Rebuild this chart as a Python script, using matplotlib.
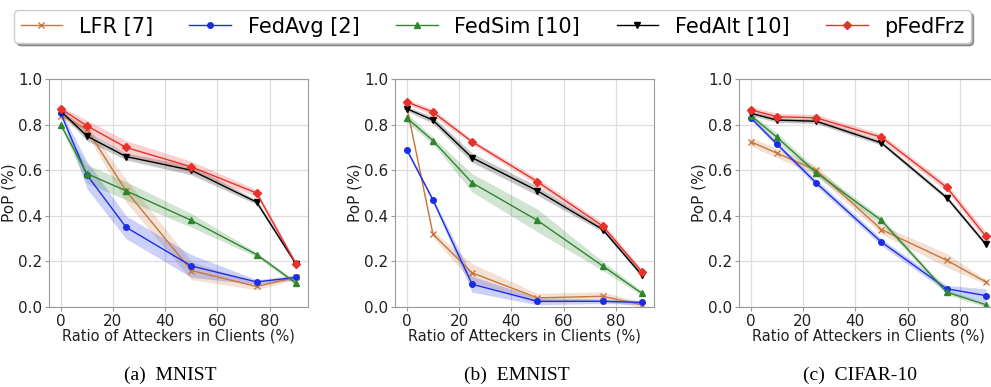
import matplotlib
matplotlib.use("Agg")
import matplotlib.pyplot as plt
import numpy as np

# attacker ratio (%) on the x axis
ratios = [0, 10, 25, 50, 75, 90]

methods = ["LFR [7]", "FedAvg [2]", "FedSim [10]", "FedAlt [10]", "pFedFrz"]
colors = ["#c8773c", "#1a2ee6", "#2e862e", "#000000", "#e8312a"]
markers = ["x", "o", "^", "v", "D"]

# mean PoP per method (rows follow `methods`)
mnist_pop = [
    [0.84, 0.78, 0.51, 0.16, 0.09, 0.13],
    [0.85, 0.58, 0.35, 0.18, 0.11, 0.13],
    [0.80, 0.585, 0.51, 0.38, 0.23, 0.105],
    [0.86, 0.75, 0.66, 0.60, 0.46, 0.19],
    [0.87, 0.795, 0.70, 0.615, 0.50, 0.19],
]
mnist_band = [
    [0.01, 0.02, 0.05, 0.04, 0.015, 0.01],
    [0.01, 0.06, 0.05, 0.05, 0.01, 0.01],
    [0.01, 0.04, 0.04, 0.03, 0.01, 0.01],
    [0.01, 0.02, 0.015, 0.02, 0.01, 0.01],
    [0.01, 0.025, 0.03, 0.025, 0.015, 0.01],
]

emnist_pop = [
    [0.88, 0.32, 0.15, 0.04, 0.047, 0.01],
    [0.69, 0.47, 0.10, 0.025, 0.025, 0.02],
    [0.83, 0.73, 0.545, 0.38, 0.18, 0.06],
    [0.87, 0.82, 0.655, 0.51, 0.34, 0.14],
    [0.90, 0.855, 0.725, 0.55, 0.355, 0.155],
]
emnist_band = [
    [0.01, 0.015, 0.04, 0.02, 0.02, 0.01],
    [0.01, 0.01, 0.035, 0.015, 0.01, 0.01],
    [0.02, 0.015, 0.04, 0.05, 0.02, 0.01],
    [0.01, 0.015, 0.02, 0.02, 0.01, 0.01],
    [0.01, 0.015, 0.01, 0.015, 0.015, 0.01],
]

cifar_pop = [
    [0.725, 0.675, 0.60, 0.34, 0.205, 0.11],
    [0.83, 0.715, 0.545, 0.285, 0.08, 0.05],
    [0.84, 0.745, 0.59, 0.38, 0.065, 0.01],
    [0.85, 0.82, 0.815, 0.72, 0.48, 0.275],
    [0.865, 0.835, 0.83, 0.745, 0.525, 0.31],
]
cifar_band = [
    [0.02, 0.02, 0.02, 0.02, 0.03, 0.01],
    [0.01, 0.01, 0.015, 0.015, 0.015, 0.03],
    [0.01, 0.02, 0.015, 0.015, 0.01, 0.01],
    [0.01, 0.01, 0.01, 0.01, 0.01, 0.01],
    [0.015, 0.015, 0.015, 0.015, 0.015, 0.02],
]

panels = [
    ("(a)  MNIST", mnist_pop, mnist_band),
    ("(b)  EMNIST", emnist_pop, emnist_band),
    ("(c)  CIFAR-10", cifar_pop, cifar_band),
]

fig = plt.figure(figsize=(9.91, 3.87), dpi=100)
lefts = [0.0494, 0.3986, 0.7457]
x = np.array(ratios, dtype=float)

handles = []
for i, (caption, pop, band) in enumerate(panels):
    ax = fig.add_axes([lefts[i], 0.2067, 0.261, 0.589])
    for j, name in enumerate(methods):
        y = np.array(pop[j])
        e = np.array(band[j])
        ax.fill_between(x, y - e, y + e, color=colors[j], alpha=0.22, linewidth=0)
        (ln,) = ax.plot(x, y, color=colors[j], marker=markers[j], markersize=4,
                        linewidth=1.0, label=name)
        if i == 0:
            handles.append(ln)

    ax.set_ylim(0, 1.0)
    ax.set_xlim(-4.5, 94.5)
    ax.set_xticks([0, 20, 40, 60, 80])
    ax.set_yticks([0.0, 0.2, 0.4, 0.6, 0.8, 1.0])
    ax.grid(color="#dddddd", linewidth=0.9)
    ax.set_axisbelow(True)
    for s in ax.spines.values():
        s.set_color("#999999")
    ax.tick_params(colors="#999999", labelcolor="#222222", labelsize=11,
                   length=3, pad=2)
    ax.set_xlabel("Ratio of Atteckers in Clients (%)", fontsize=10.5,
                  color="#222222", labelpad=0)
    ax.set_ylabel("PoP (%)", fontsize=11, color="#222222", labelpad=1)

    cx = lefts[i] + 0.261 / 2 - 0.008
    fig.text(cx, 0.03, caption, ha="center", va="center", fontsize=14,
             family="Liberation Serif")

fig.legend(handles=handles, loc="upper center", bbox_to_anchor=(0.497, 1.0),
           ncol=5, fontsize=15, shadow=True, fancybox=True,
           handlelength=2.0, columnspacing=1.75, borderpad=0.3,
           handletextpad=0.8)

fig.savefig("out.png", dpi=100)
